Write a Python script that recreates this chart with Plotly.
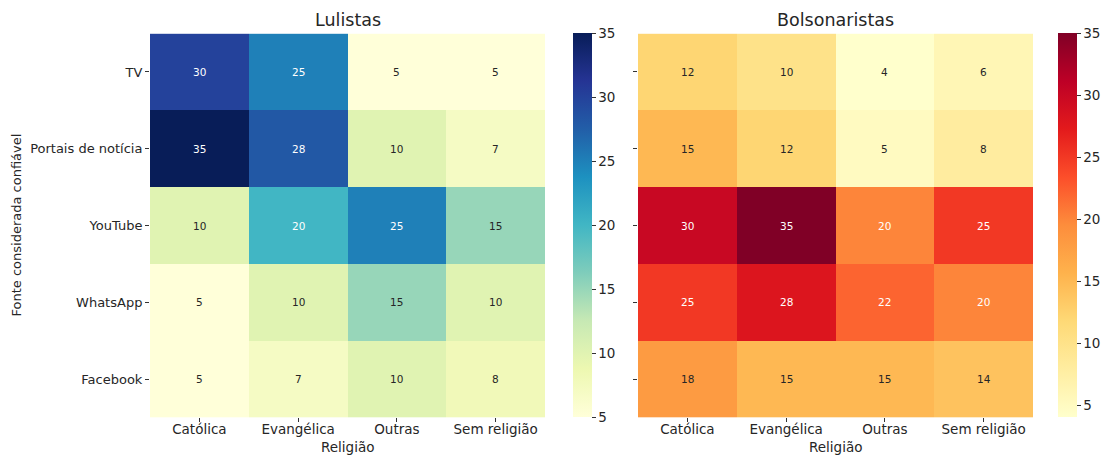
import plotly.graph_objects as go
from plotly.colors import sample_colorscale, sequential, unlabel_rgb

# Trusted news source by religion, for each voter group
sources = ["TV", "Portais de notícia", "YouTube", "WhatsApp", "Facebook"]
religions = ["Católica", "Evangélica", "Outras", "Sem religião"]

lulistas = [
    [30, 25, 5, 5],
    [35, 28, 10, 7],
    [10, 20, 25, 15],
    [5, 10, 15, 10],
    [5, 7, 10, 8],
]
bolsonaristas = [
    [12, 10, 4, 6],
    [15, 12, 5, 8],
    [30, 35, 20, 25],
    [25, 28, 22, 20],
    [18, 15, 15, 14],
]
cbar_ticks = [5, 10, 15, 20, 25, 30, 35]

W, H = 1101, 455
FONT = "DejaVu Sans"
DARK = "#262626"


def fx(px):
    return px / W


def fy(py):
    return 1 - py / H


def luminance(rgb):
    vals = []
    for c in rgb:
        c = c / 255
        vals.append(c / 12.92 if c <= 0.03928 else ((c + 0.055) / 1.055) ** 2.4)
    return 0.2126 * vals[0] + 0.7152 * vals[1] + 0.0722 * vals[2]


def text_color(v, scale, zmin, zmax):
    col = sample_colorscale(scale, [(v - zmin) / (zmax - zmin)])[0]
    rgb = unlabel_rgb(col)
    return DARK if luminance(rgb) > 0.408 else "white"


top_px, bot_px = 33.6, 417.4
panels = [
    dict(z=lulistas, scale=sequential.YlGnBu, zmin=5, zmax=35, title="Lulistas",
         x0=150, x1=545, cb=573, xa="x", ya="y"),
    dict(z=bolsonaristas, scale=sequential.YlOrRd, zmin=4, zmax=35, title="Bolsonaristas",
         x0=638, x1=1033, cb=1058, xa="x2", ya="y2"),
]

fig = go.Figure()
annotations = []
for p in panels:
    fig.add_trace(go.Heatmap(
        z=p["z"], x=religions, y=sources,
        colorscale=p["scale"], zmin=p["zmin"], zmax=p["zmax"],
        xaxis=p["xa"], yaxis=p["ya"], hoverongaps=False,
        colorbar=dict(
            x=fx(p["cb"]), xanchor="left", y=fy(bot_px), yanchor="bottom",
            len=(bot_px - top_px) / H, lenmode="fraction",
            thickness=19, thicknessmode="pixels",
            outlinewidth=0, xpad=0, ypad=0,
            ticks="outside", ticklen=4, tickwidth=1, tickcolor="#333",
            tickvals=cbar_ticks, tickfont=dict(family=FONT, size=13.5, color=DARK),
        ),
    ))
    for i, src in enumerate(sources):
        for j, rel in enumerate(religions):
            v = p["z"][i][j]
            annotations.append(dict(
                x=rel, y=src, xref=p["xa"], yref=p["ya"], text=str(v),
                showarrow=False,
                font=dict(family=FONT, size=10.5,
                          color=text_color(v, p["scale"], p["zmin"], p["zmax"])),
            ))
    cx = fx((p["x0"] + p["x1"]) / 2)
    annotations.append(dict(
        x=cx, y=fy(20), xref="paper", yref="paper", text=p["title"],
        showarrow=False, xanchor="center", yanchor="middle",
        font=dict(family=FONT, size=17.5, color=DARK),
    ))
    annotations.append(dict(
        x=cx, y=fy(447), xref="paper", yref="paper", text="Religião",
        showarrow=False, xanchor="center", yanchor="middle",
        font=dict(family=FONT, size=13.5, color=DARK),
    ))

annotations.append(dict(
    x=fx(16), y=fy((top_px + bot_px) / 2), xref="paper", yref="paper",
    text="Fonte considerada confiável", textangle=-90, showarrow=False,
    xanchor="center", yanchor="middle",
    font=dict(family=FONT, size=13, color=DARK),
))

axis_common = dict(
    showgrid=False, zeroline=False, showline=False,
    ticks="outside", ticklen=4, tickwidth=1, tickcolor="#333",
)
xtick_font = dict(family=FONT, size=13.5, color=DARK)
ytick_font = dict(family=FONT, size=13, color=DARK)
ydom = [fy(bot_px), fy(top_px)]

fig.update_layout(
    width=W, height=H,
    margin=dict(l=0, r=0, t=0, b=0),
    paper_bgcolor="white", plot_bgcolor="white",
    font=dict(family=FONT, color=DARK),
    xaxis=dict(domain=[fx(150), fx(545)], anchor="y", tickfont=xtick_font,
               ticklabelstandoff=-5, **axis_common),
    yaxis=dict(domain=ydom, anchor="x", autorange="reversed", tickfont=ytick_font,
               categoryorder="array", categoryarray=sources, **axis_common),
    xaxis2=dict(domain=[fx(638), fx(1033)], anchor="y2", tickfont=xtick_font,
                ticklabelstandoff=-5, **axis_common),
    yaxis2=dict(domain=ydom, anchor="x2", autorange="reversed", tickfont=ytick_font,
                categoryorder="array", categoryarray=sources,
                showticklabels=False, **axis_common),
    annotations=annotations,
    showlegend=False,
)

fig.write_html("out.html")
